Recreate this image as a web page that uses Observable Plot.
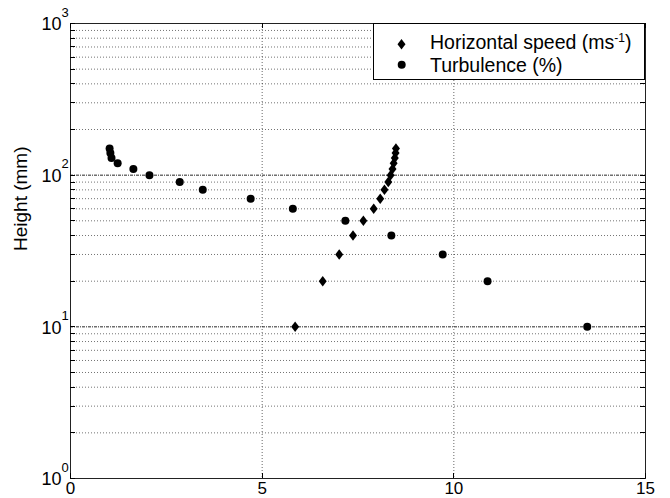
<!DOCTYPE html>
<html><head><meta charset="utf-8">
<script src="https://cdn.jsdelivr.net/npm/d3@7"></script>
<script src="https://cdn.jsdelivr.net/npm/@observablehq/plot@0.6"></script>
<style>
body{margin:0;background:#fff;}
#wrap{width:670px;height:498px;overflow:hidden;}
</style></head><body><div id="wrap"></div>
<script>
// Data
const heights = [10, 20, 30, 40, 50, 60, 70, 80, 90, 100, 110, 120, 130, 140, 150];
const speed = [5.86, 6.58, 7.01, 7.37, 7.64, 7.91, 8.08, 8.19, 8.29, 8.35, 8.40, 8.43, 8.46, 8.48, 8.49];
const turbulence = [13.48, 10.88, 9.71, 8.37, 7.17, 5.80, 4.70, 3.45, 2.85, 2.06, 1.64, 1.23, 1.07, 1.04, 1.02];
const xTicks = [0, 5, 10, 15];
const xGrid = [5, 10];
const yMajor = [1, 10, 100, 1000];
const yMinor = [2,3,4,5,6,7,8,9,20,30,40,50,60,70,80,90,200,300,400,500,600,700,800,900];
const seriesNames = ["Horizontal speed (ms", "Turbulence (%)"];

const speedData = heights.map((h, i) => ({h, v: speed[i]}));
const turbData = heights.map((h, i) => ({h, v: turbulence[i]}));
const yAll = [...yMajor, ...yMinor].sort((a, b) => a - b);

const diamond = {
  draw(ctx, size) {
    const r = Math.sqrt(size / Math.PI);
    ctx.moveTo(0, -r * 1.25);
    ctx.lineTo(r * 0.95, 0);
    ctx.lineTo(0, r * 1.25);
    ctx.lineTo(-r * 0.95, 0);
    ctx.closePath();
  }
};

const font = "Liberation Sans, Arial, Helvetica, sans-serif";
const plot = Plot.plot({
  width: 670, height: 498,
  marginLeft: 70, marginRight: 25, marginTop: 23, marginBottom: 20,
  x: {domain: [0, 15], axis: null},
  y: {type: "log", domain: [1, 1000], axis: null},
  style: {fontFamily: font, fontSize: "18px", background: "#fff", color: "#000", overflow: "visible"},
  marks: [
    Plot.gridY(yMinor, {stroke: "#000", strokeOpacity: 0.55, strokeDasharray: "1,2"}),
    Plot.gridY([10, 100], {stroke: "#000", strokeOpacity: 0.85, strokeDasharray: "3,1,1,1"}),
    Plot.gridX(xGrid, {stroke: "#000", strokeOpacity: 0.6, strokeDasharray: "1,2"}),
    Plot.frame({stroke: "#222"}),
    Plot.text(xTicks, {x: d => d, frameAnchor: "bottom", lineAnchor: "bottom", dy: 15, text: d => String(d), fontSize: 17}),
    Plot.text(yMajor, {y: d => d, frameAnchor: "left", textAnchor: "end", dx: -9, dy: 1, text: () => "10", fontSize: 18}),
    Plot.text(yMajor, {y: d => d, frameAnchor: "left", textAnchor: "start", dx: -9, dy: -11, text: d => String(Math.round(Math.log10(d))), fontSize: 13}),
    Plot.text(["Height (mm)"], {frameAnchor: "left", dx: -50, rotate: -90, fontSize: 19}),
    Plot.dot(turbData, {x: "v", y: "h", r: 4, fill: "#000", stroke: null}),
    Plot.dot(speedData, {x: "v", y: "h", r: 4.2, symbol: diamond, fill: "#000", stroke: null})
  ]
});
document.getElementById("wrap").appendChild(plot);

const svg = d3.select(plot);
const xs = plot.scale("x"), ys = plot.scale("y");
const [x0, x1] = xs.range, [y0, y1] = ys.range; // y0 bottom, y1 top
const L = 5;
// Inward ticks on all four sides, positioned by Plot's scales
const tg = svg.append("g").attr("stroke", "#000").attr("stroke-width", 1);
yAll.forEach(v => {
  const y = Math.round(ys.apply(v)) + 0.5;
  tg.append("line").attr("x1", x0).attr("x2", x0 + L).attr("y1", y).attr("y2", y);
  tg.append("line").attr("x1", x1).attr("x2", x1 - L).attr("y1", y).attr("y2", y);
});
xTicks.forEach(v => {
  const x = Math.round(xs.apply(v)) + 0.5;
  tg.append("line").attr("x1", x).attr("x2", x).attr("y1", y0).attr("y2", y0 - L);
  tg.append("line").attr("x1", x).attr("x2", x).attr("y1", y1).attr("y2", y1 + L);
});

// Legend box
const g = svg.append("g").attr("font-family", font).attr("font-size", 19.5).attr("text-anchor", "start");
g.append("rect").attr("x", 373.5).attr("y", 23.5).attr("width", 271).attr("height", 56)
  .attr("fill", "#fff").attr("stroke", "#000");
g.append("path").attr("transform", "translate(401.5,44.3)")
  .attr("d", d3.symbol(diamond, Math.PI * 4.2 * 4.2)()).attr("fill", "#000");
g.append("circle").attr("cx", 401.7).attr("cy", 64.7).attr("r", 4).attr("fill", "#000");
const t1 = g.append("text").attr("x", 430).attr("y", 48.5);
t1.append("tspan").text(seriesNames[0]);
t1.append("tspan").attr("font-size", 12).attr("dy", -7).text("-1");
t1.append("tspan").attr("dy", 7).text(")");
g.append("text").attr("x", 430).attr("y", 72).text(seriesNames[1]);
</script></body></html>
